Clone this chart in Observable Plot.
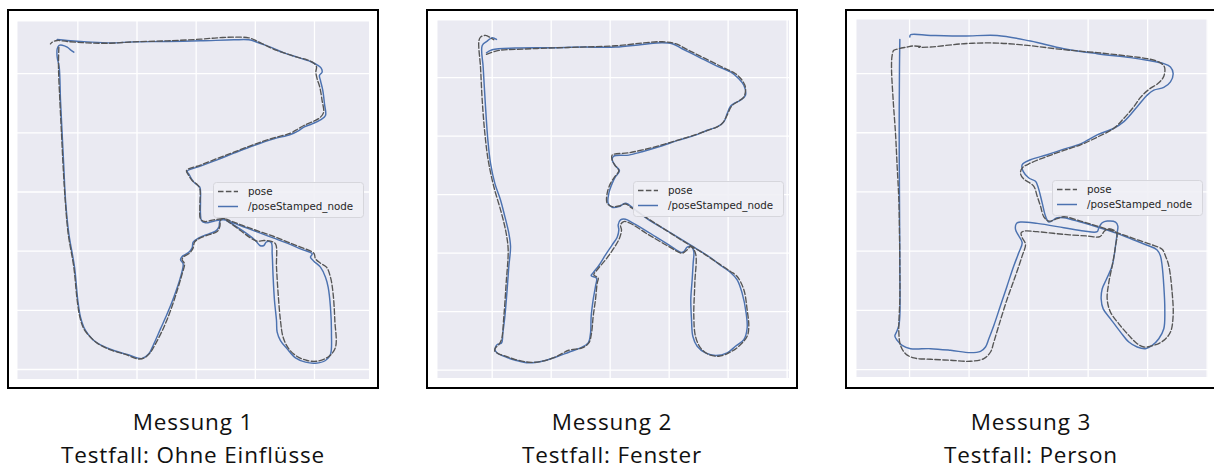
<!DOCTYPE html>
<html><head><meta charset="utf-8">
<script src="https://cdn.jsdelivr.net/npm/d3@7"></script>
<script src="https://cdn.jsdelivr.net/npm/@observablehq/plot@0.6"></script>
<style>
html,body{margin:0;padding:0;background:#fff;overflow:hidden;width:1214px;height:469px;position:relative;}
.frame{position:absolute;top:9px;width:372px;height:380px;border:2px solid #000;box-sizing:border-box;}
.plot{position:absolute;width:352px;height:358px;}
.plot svg{display:block;}
.legend{position:absolute;}
.cap{position:absolute;width:372px;text-align:center;font-family:"Open Sans",sans-serif;font-size:22.5px;letter-spacing:0.85px;line-height:24px;height:24px;color:#111;white-space:nowrap;}
</style></head><body>
<script>
const titles = ["Messung 1", "Messung 2", "Messung 3"];
const testfaelle = ["Testfall: Ohne Einflüsse", "Testfall: Fenster", "Testfall: Person"];
const seriesNames = ["pose", "/poseStamped_node"];
const yTicks = [0, 1, 2, 3, 4, 5];
const xTicks1 = [1, 2, 3, 4, 5];
const xTicks23 = [1, 2, 3, 4, 5, 6];

// Messung 1
const stamped1 = [[0.932,5.363],[0.876,5.403],[0.820,5.448],[0.735,5.482],[0.679,5.476],[0.651,5.420],[0.651,5.279],
[0.685,5.110],[0.707,4.546],[0.735,3.983],[0.763,3.420],[0.792,2.856],[0.848,2.293],[0.944,1.730],[1.0,1.166],[1.045,0.885],[1.101,0.715],[1.169,0.603],[1.270,0.490],[1.383,0.417],[1.608,0.321],[1.834,0.254],[2.003,0.197],[2.087,0.186],
[2.200,0.265],[2.285,0.434],[2.397,0.687],[2.510,0.941],[2.622,1.223],[2.735,1.561],[2.780,1.786],[2.735,1.854],[2.763,1.910],[2.876,1.983],[2.932,2.056],[2.949,2.152],[3.045,2.225],[3.214,2.293],[3.327,2.338],[3.383,2.406],[3.400,2.507],[3.439,2.546],
[3.524,2.507],[3.693,2.406],[3.862,2.293],[4.003,2.180],[4.076,2.096],[4.144,2.096],[4.189,2.158],[4.268,2.146],[4.285,1.955],[4.301,1.561],[4.324,1.166],[4.358,0.828],[4.369,0.631],[4.425,0.490],[4.538,0.349],[4.679,0.197],[4.848,0.124],[5.017,0.107],[5.186,0.152],[5.270,0.254],[5.287,0.603],[5.270,1.054],[5.231,1.392],[5.186,1.561],[5.101,1.730],[4.989,1.831],[4.932,1.899],[4.961,1.955],
[4.763,2.039],[4.538,2.135],[4.313,2.220],[4.087,2.304],[3.862,2.389],[3.637,2.473],[3.468,2.530],
[3.299,2.507],[3.158,2.479],[3.090,2.518],[3.073,2.631],[3.073,2.856],[3.062,3.082],[2.989,3.138],[2.932,3.206],[2.882,3.296],[2.848,3.352],
[3.073,3.437],[3.355,3.544],[3.637,3.656],[3.975,3.786],[4.313,3.899],[4.594,3.972],[4.735,4.039],[4.820,4.096],[4.961,4.152],[5.101,4.220],[5.186,4.293],[5.169,4.490],[5.141,4.715],[5.101,4.885],[5.084,4.969],[5.129,5.025],[5.113,5.093],[5.045,5.149],[4.932,5.206],[4.707,5.279],[4.482,5.352],[4.256,5.448],[4.031,5.532],[3.890,5.572],[3.637,5.572],[3.073,5.555],[2.510,5.544],[1.946,5.538],[1.552,5.521],[1.158,5.538],[0.820,5.561],[0.651,5.577]];

const pose1 = [[0.679,5.448],[0.673,5.110],[0.696,4.546],[0.724,3.983],[0.752,3.420],[0.787,2.856],[0.837,2.293],[0.932,1.730],[0.989,1.166],[1.034,0.885],[1.101,0.687],[1.186,0.575],[1.327,0.445],[1.552,0.332],[1.806,0.254],[2.003,0.180],[2.115,0.192],[2.217,0.276],[2.313,0.434],[2.454,0.715],[2.577,1.025],[2.679,1.335],[2.763,1.617],[2.803,1.786],[2.763,1.854],[2.780,1.899],[2.893,1.972],[2.949,2.056],[2.972,2.152],[3.062,2.220],[3.231,2.282],[3.355,2.332],[3.400,2.417],[3.411,2.518],[3.451,2.558],
[3.580,2.473],[3.749,2.349],[3.918,2.225],[4.031,2.169],[4.144,2.180],[4.256,2.169],[4.341,2.124],[4.358,1.730],[4.386,1.279],[4.425,0.828],[4.470,0.546],[4.566,0.349],[4.707,0.220],[4.876,0.152],[5.045,0.141],[5.242,0.220],[5.355,0.377],[5.344,0.828],[5.315,1.279],[5.270,1.561],[5.203,1.730],[5.101,1.797],[5.017,1.870],[4.989,1.966],
[4.763,2.068],[4.538,2.158],[4.313,2.248],[4.087,2.327],[3.862,2.406],[3.637,2.490],[3.479,2.546],
[3.299,2.530],[3.141,2.501],[3.073,2.546],[3.062,2.744],[3.062,3.054],[3.017,3.127],[2.932,3.194],[2.876,3.279],[2.837,3.363],
[3.073,3.454],[3.355,3.566],[3.637,3.673],[3.975,3.803],[4.313,3.915],[4.594,3.994],[4.724,4.068],[4.820,4.124],[4.989,4.197],[5.101,4.265],[5.155,4.349],[5.129,4.546],[5.090,4.772],[5.045,4.913],[5.023,5.025],[5.034,5.121],[4.989,5.177],[4.876,5.234],[4.707,5.279],[4.538,5.335],[4.369,5.392],[4.200,5.465],[4.031,5.549],[3.890,5.606],[3.637,5.617],[3.355,5.606],[3.073,5.583],[2.510,5.555],[1.946,5.538],[1.552,5.515],[1.158,5.521],[0.820,5.544],[0.651,5.561],[0.566,5.532],[0.538,5.504]];

// Messung 2
const stamped2 = [[0.904,5.426],[1.000,5.477],[1.395,5.506],[1.989,5.511],[2.525,5.523],[3.090,5.523],[3.542,5.568],[3.881,5.597],[4.051,5.580],[4.220,5.494],[4.503,5.352],[4.785,5.210],[5.040,5.097],[5.181,4.983],[5.266,4.869],[5.294,4.699],[5.209,4.614],[5.096,4.557],[5.040,4.511],[4.983,4.386],[4.927,4.244],[4.814,4.159],[4.644,4.102],[4.446,4.017],[4.164,3.932],[3.825,3.818],[3.542,3.733],[3.316,3.676],[3.062,3.659],[3.034,3.602],[3.079,3.506],[3.158,3.409],[3.090,3.307],[3.034,3.193],[2.977,3.023],[2.966,2.852],[3.034,2.784],[3.147,2.795],[3.260,2.852],[3.429,2.739],[3.655,2.568],[3.938,2.398],[4.220,2.227],[4.446,2.085],[4.672,1.943],[4.898,1.773],[5.040,1.670],[5.153,1.545],[5.237,1.318],[5.305,0.977],[5.322,0.722],[5.266,0.523],[5.124,0.409],[4.983,0.295],[4.785,0.250],[4.616,0.295],[4.475,0.409],[4.401,0.580],[4.379,0.864],[4.367,1.205],[4.390,1.545],[4.407,1.830],[4.418,2.028],[4.379,2.114],[4.305,2.102],[4.249,2.028],[4.209,2.011],[3.994,2.142],[3.768,2.284],[3.542,2.426],[3.373,2.523],[3.260,2.580],[3.175,2.568],[3.136,2.483],[3.147,2.398],[3.119,2.273],[3.034,2.142],[2.921,1.972],[2.808,1.790],[2.706,1.659],[2.678,1.614],[2.768,1.574],[2.751,1.432],[2.712,1.205],[2.678,0.920],[2.667,0.636],[2.627,0.466],[2.497,0.381],[2.299,0.307],[2.073,0.222],[1.847,0.153],[1.621,0.125],[1.395,0.170],[1.226,0.227],[1.085,0.295],[1.045,0.352],[1.085,0.438],[1.158,0.466],[1.181,0.636],[1.215,0.920],[1.249,1.318],[1.282,1.773],[1.311,2.114],[1.282,2.341],[1.215,2.625],[1.141,2.909],[1.045,3.193],[0.972,3.534],[0.927,3.932],[0.898,4.330],[0.870,4.784],[0.847,5.182],[0.831,5.551],[0.915,5.625],[1.000,5.682],[1.073,5.653]];

const pose2 = [[0.904,5.398],[1.113,5.466],[1.395,5.483],[1.960,5.506],[2.525,5.523],[3.090,5.545],[3.542,5.591],[3.881,5.614],[4.107,5.580],[4.333,5.466],[4.616,5.324],[4.898,5.182],[5.124,5.068],[5.237,4.955],[5.294,4.830],[5.266,4.670],[5.153,4.585],[5.056,4.511],[4.983,4.358],[4.898,4.216],[4.814,4.159],[4.616,4.085],[4.333,3.989],[3.994,3.886],[3.655,3.790],[3.316,3.716],[3.034,3.676],[3.034,3.591],[3.079,3.506],[3.147,3.409],[3.079,3.307],[3.006,3.193],[2.949,3.023],[2.949,2.852],[3.034,2.795],[3.147,2.807],[3.260,2.841],[3.373,2.767],[3.655,2.580],[3.938,2.398],[4.220,2.216],[4.503,2.045],[4.785,1.858],[5.040,1.688],[5.153,1.602],[5.266,1.375],[5.322,1.034],[5.350,0.750],[5.322,0.580],[5.181,0.409],[5.011,0.295],[4.842,0.239],[4.672,0.267],[4.531,0.381],[4.446,0.580],[4.418,0.920],[4.435,1.489],[4.446,2.000],[4.362,2.114],[4.305,2.057],[4.220,2.000],[3.994,2.114],[3.655,2.313],[3.316,2.523],[3.232,2.540],[3.175,2.483],[3.192,2.398],[3.158,2.256],[3.062,2.085],[2.921,1.886],[2.780,1.716],[2.723,1.631],[2.797,1.574],[2.780,1.489],[2.751,1.205],[2.712,0.920],[2.684,0.636],[2.638,0.466],[2.525,0.381],[2.299,0.341],[2.073,0.227],[1.847,0.153],[1.621,0.136],[1.395,0.182],[1.226,0.239],[1.102,0.284],[1.045,0.324],[1.056,0.381],[1.113,0.438],[1.158,0.523],[1.198,0.920],[1.237,1.489],[1.271,2.057],[1.237,2.341],[1.158,2.682],[1.028,3.136],[0.932,3.591],[0.876,4.045],[0.831,4.614],[0.802,5.182],[0.774,5.619],[0.802,5.693],[0.887,5.722],[1.000,5.665],[1.028,5.648]];

// Messung 3
const stamped3 = [[0.837,5.577],[0.831,5.112],[0.826,3.992],[0.831,2.872],[0.837,1.753],[0.837,0.913],[0.820,0.744],[0.781,0.633],[0.753,0.566],[0.792,0.493],[0.876,0.409],[1.016,0.353],[1.352,0.353],[1.688,0.325],[2.024,0.286],[2.192,0.308],[2.276,0.381],[2.332,0.521],[2.416,0.745],[2.528,1.081],[2.640,1.417],[2.752,1.753],[2.836,1.976],[2.892,2.144],[2.836,2.256],[2.780,2.368],[2.797,2.469],[2.864,2.492],[3.144,2.469],[3.592,2.396],[3.928,2.340],[4.152,2.329],[4.180,2.396],[4.236,2.480],[4.320,2.508],[4.460,2.492],[4.499,2.424],[4.488,2.312],[4.460,2.088],[4.404,1.753],[4.309,1.529],[4.236,1.361],[4.219,1.193],[4.253,1.025],[4.376,0.857],[4.544,0.633],[4.684,0.465],[4.824,0.381],[4.964,0.353],[5.076,0.409],[5.187,0.521],[5.271,0.689],[5.288,1.025],[5.271,1.417],[5.243,1.753],[5.215,1.920],[5.159,2.021],[4.992,2.100],[4.711,2.212],[4.488,2.301],[4.152,2.408],[3.872,2.492],[3.592,2.564],[3.480,2.564],[3.340,2.492],[3.284,2.592],[3.228,2.816],[3.155,3.096],[3.116,3.180],[3.004,3.236],[2.909,3.348],[2.892,3.460],[3.032,3.544],[3.312,3.628],[3.592,3.723],[3.872,3.813],[4.152,3.964],[4.432,4.076],[4.600,4.188],[4.824,4.440],[4.992,4.636],[5.104,4.720],[5.271,4.765],[5.383,4.860],[5.428,5.000],[5.383,5.112],[5.271,5.168],[4.992,5.224],[4.711,5.269],[4.152,5.336],[3.592,5.420],[3.032,5.549],[2.472,5.644],[1.912,5.633],[1.352,5.644],[1.016,5.655],[1.005,5.616]];

const pose3 = [[1.184,5.459],[1.044,5.465],[0.960,5.448],[0.820,5.420],[0.736,5.392],[0.708,5.308],[0.697,5.112],[0.725,4.552],[0.764,3.992],[0.792,3.432],[0.820,2.872],[0.831,2.312],[0.837,1.753],[0.837,1.193],[0.820,0.633],[0.848,0.409],[0.932,0.269],[1.072,0.196],[1.352,0.174],[1.688,0.157],[2.024,0.140],[2.248,0.185],[2.360,0.297],[2.416,0.465],[2.500,0.745],[2.640,1.193],[2.780,1.585],[2.892,1.920],[2.948,2.116],[2.892,2.228],[2.875,2.312],[2.931,2.340],[3.144,2.329],[3.592,2.284],[3.984,2.256],[4.197,2.245],[4.275,2.340],[4.348,2.380],[4.477,2.312],[4.460,2.088],[4.404,1.753],[4.348,1.473],[4.320,1.193],[4.376,0.969],[4.516,0.773],[4.684,0.577],[4.824,0.437],[4.936,0.381],[5.104,0.409],[5.271,0.493],[5.383,0.633],[5.428,0.913],[5.411,1.305],[5.355,1.753],[5.299,1.920],[5.243,2.032],[5.047,2.116],[4.768,2.212],[4.488,2.312],[4.152,2.424],[3.872,2.508],[3.592,2.581],[3.480,2.548],[3.340,2.508],[3.256,2.581],[3.200,2.760],[3.144,2.928],[3.088,3.096],[3.004,3.163],[2.920,3.219],[2.864,3.309],[2.892,3.404],[3.032,3.488],[3.312,3.600],[3.592,3.701],[3.872,3.796],[4.152,3.925],[4.432,4.076],[4.600,4.244],[4.768,4.440],[4.880,4.597],[5.020,4.731],[5.187,4.843],[5.271,4.955],[5.282,5.112],[5.187,5.196],[4.992,5.252],[4.711,5.291],[4.152,5.353],[3.592,5.403],[3.032,5.470],[2.472,5.515],[1.912,5.504],[1.352,5.448],[1.156,5.442]];

const panels = [
  {title: titles[0], test: testfaelle[0], pose: pose1, stamped: stamped1, xDomain: [-0.02, 5.93], yDomain: [-0.169, 5.882], xTicks: xTicks1, frameLeft: 7, plotLeft: 17, plotTop: 21},
  {title: titles[1], test: testfaelle[1], pose: pose2, stamped: stamped2, xDomain: [0.073, 6.04], yDomain: [-0.142, 5.977], xTicks: xTicks23, frameLeft: 426, plotLeft: 437, plotTop: 20},
  {title: titles[2], test: testfaelle[2], pose: pose3, stamped: stamped3, xDomain: [0.109, 6.022], yDomain: [-0.134, 5.913], xTicks: xTicks23, frameLeft: 845, plotLeft: 856, plotTop: 19}
];

const BLUE = "#4c72b0", GRAY = "#555555";

for (const p of panels) {
  const frame = document.createElement("div");
  frame.className = "frame";
  frame.style.left = p.frameLeft + "px";
  document.body.appendChild(frame);

  const holder = document.createElement("div");
  holder.className = "plot";
  holder.style.left = p.plotLeft + "px";
  holder.style.top = p.plotTop + "px";
  const chart = Plot.plot({
    width: 352, height: 358, margin: 0,
    style: {background: "transparent"},
    x: {domain: p.xDomain, axis: null},
    y: {domain: p.yDomain, axis: null},
    marks: [
      Plot.frame({fill: "#eaeaf2", stroke: null}),
      Plot.ruleX(p.xTicks, {stroke: "#ffffff", strokeWidth: 1.3, strokeOpacity: 1}),
      Plot.ruleY(yTicks, {stroke: "#ffffff", strokeWidth: 1.3, strokeOpacity: 1}),
      Plot.line(p.stamped, {x: d => d[0], y: d => d[1], stroke: BLUE, strokeWidth: 1.45, curve: "catmull-rom", clip: true}),
      Plot.line(p.pose, {x: d => d[0], y: d => d[1], stroke: GRAY, strokeWidth: 1.35, strokeDasharray: "5.5,2.4", curve: "catmull-rom", clip: true})
    ]
  });
  holder.appendChild(chart);
  document.body.appendChild(holder);

  // legend
  const ns = "http://www.w3.org/2000/svg";
  const lg = document.createElementNS(ns, "svg");
  lg.setAttribute("width", 152); lg.setAttribute("height", 37);
  lg.setAttribute("class", "legend");
  lg.style.left = (p.plotLeft + 196) + "px";
  lg.style.top = (p.plotTop + 161) + "px";
  lg.innerHTML =
    `<rect x="0.5" y="0.5" width="150" height="35" rx="3" fill="#efeff5" fill-opacity="0.9" stroke="#d6d6dc"/>` +
    `<line x1="5" x2="25" y1="9.5" y2="9.5" stroke="${GRAY}" stroke-width="1.5" stroke-dasharray="5.5,2.4"/>` +
    `<line x1="5" x2="25" y1="24.5" y2="24.5" stroke="${BLUE}" stroke-width="1.5"/>` +
    `<text x="35" y="13" font-family="DejaVu Sans" font-size="10.3" fill="#262626">${seriesNames[0]}</text>` +
    `<text x="35" y="28" font-family="DejaVu Sans" font-size="10.3" fill="#262626">${seriesNames[1]}</text>`;
  document.body.appendChild(lg);

  const cap1 = document.createElement("div");
  cap1.className = "cap";
  cap1.style.left = p.frameLeft + "px";
  cap1.style.top = "410px";
  cap1.textContent = p.title;
  document.body.appendChild(cap1);

  const cap2 = document.createElement("div");
  cap2.className = "cap";
  cap2.style.left = p.frameLeft + "px";
  cap2.style.top = "443px";
  cap2.textContent = p.test;
  document.body.appendChild(cap2);
}
</script>
</body></html>
